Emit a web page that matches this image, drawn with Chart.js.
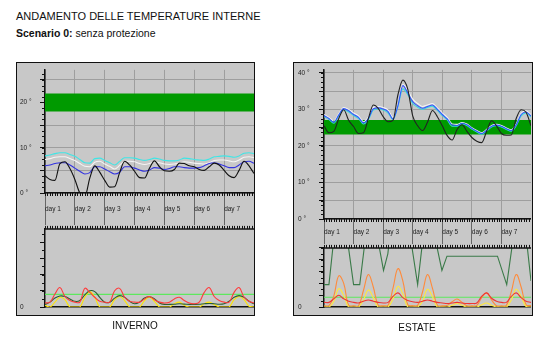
<!DOCTYPE html>
<html lang="it">
<head>
<meta charset="utf-8">
<title>Andamento delle temperature interne</title>
<script src="https://cdn.jsdelivr.net/npm/chart.js@4.4.1/dist/chart.umd.min.js"></script>
<style>
  html, body { margin: 0; padding: 0; background: #fff; }
  body { width: 554px; height: 347px; position: relative; overflow: hidden;
         font-family: "Liberation Sans", Arial, sans-serif; color: #111; }
  .titolo { position: absolute; left: 16px; top: 10px; font-size: 11px; line-height: 13px; white-space: nowrap; }
  .sottotitolo { position: absolute; left: 16px; top: 27px; font-size: 10.5px; line-height: 12px; white-space: nowrap; }
  .pannello { position: absolute; box-sizing: border-box; border: 1px solid #111; background: #c8c8c8; }
  canvas { position: absolute; }
  .didascalia { position: absolute; font-size: 10px; line-height: 12px; transform: translateX(-50%); }
</style>
</head>
<body>
<div class="titolo">ANDAMENTO DELLE TEMPERATURE INTERNE</div>
<div class="sottotitolo"><b>Scenario 0:</b> senza protezione</div>

<div class="pannello" style="left:16px; top:62px; width:239px; height:254px;"></div>
<div class="pannello" style="left:293px; top:62px; width:240px; height:254px;"></div>

<canvas id="invTemp" width="237" height="162" style="left:17px; top:63px;"></canvas>
<canvas id="invApporti" width="237" height="92" style="left:17px; top:222px;"></canvas>
<canvas id="estTemp" width="237" height="181" style="left:294px; top:63px;"></canvas>
<canvas id="estApporti" width="237" height="73" style="left:294px; top:241px;"></canvas>

<div class="didascalia" style="left:135px; top:320px;">INVERNO</div>
<div class="didascalia" style="left:417px; top:322px;">ESTATE</div>

<script>
// ore della settimana simulata (campioni ogni 4 h)
const ore = [0, 4, 8, 12, 16, 20, 24, 28, 32, 36, 40, 44, 48, 52, 56, 60, 64, 68, 72, 76, 80, 84,
  88, 92, 96, 100, 104, 108, 112, 116, 120, 124, 128, 132, 136, 140, 144, 148, 152, 156, 160, 164, 168];
const giorni = ['day 1', 'day 2', 'day 3', 'day 4', 'day 5', 'day 6', 'day 7'];

// INVERNO - temperature interne (°C)
const invNero = [3.8, 3.0, 2.8, 6.5, 6.9, 5.4, 3.0, 0.0, -0.8, 3.3, 6.0, 4.6, 2.8, 1.3, 1.4, 4.5, 7.0, 6.2,
  4.8, 3.4, 3.3, 5.5, 7.1, 5.8, 4.9, 4.8, 5.2, 6.6, 6.5, 6.0, 5.8, 5.2, 5.0, 5.8, 6.6, 6.2, 5.0, 3.8, 3.4,
  5.0, 7.0, 6.0, 4.3];
const invCiano = [8.2, 8.4, 8.7, 8.9, 8.9, 8.5, 8.1, 7.4, 6.7, 6.6, 7.6, 7.7, 7.2, 6.7, 6.2, 7.0, 7.8, 7.8,
  7.7, 7.4, 7.2, 7.4, 7.7, 7.5, 7.2, 7.1, 7.1, 7.3, 7.7, 7.6, 7.4, 7.3, 7.2, 7.5, 8.0, 8.1, 8.2, 8.1, 7.9,
  8.2, 8.8, 8.9, 8.7];
const invBianco = [7.4, 7.6, 7.9, 8.0, 8.0, 7.6, 7.2, 6.5, 5.9, 5.8, 6.8, 7.0, 6.4, 5.9, 5.3, 6.1, 7.0, 7.0,
  6.9, 6.5, 6.3, 6.5, 6.9, 6.7, 6.4, 6.3, 6.4, 6.6, 6.9, 6.8, 6.6, 6.5, 6.4, 6.7, 7.2, 7.3, 7.3, 7.1, 6.9,
  7.3, 7.9, 8.0, 7.8];
const invBlu = [6.0, 6.2, 6.5, 6.7, 6.7, 6.2, 5.5, 4.8, 4.2, 4.5, 5.8, 5.8, 5.3, 4.7, 4.2, 4.6, 5.8, 5.8,
  5.5, 5.1, 4.8, 5.1, 5.6, 5.5, 5.2, 5.4, 5.8, 5.8, 5.6, 5.5, 5.5, 5.6, 6.0, 6.5, 6.7, 6.4, 6.0, 5.6, 5.6,
  6.2, 6.9, 7.0, 6.6];
const invComfort = [18, 22];

// INVERNO - apporti
const invRosso = [0.25, 0.3, 0.8, 1.2, 0.65, 0.4, 0.3, 0.3, 1.15, 0.9, 0.6, 0.35, 0.3, 0.3, 1.0, 1.15, 0.6,
  0.35, 0.3, 0.3, 0.5, 0.65, 0.45, 0.3, 0.25, 0.3, 0.5, 0.6, 0.4, 0.25, 0.2, 0.3, 0.9, 1.2, 0.65, 0.4, 0.3,
  0.3, 0.9, 1.2, 0.6, 0.35, 0.25];
const invVerdeScuro = [0.15, 0.3, 0.55, 0.68, 0.65, 0.5, 0.35, 0.4, 0.75, 1.0, 0.95, 0.6, 0.3, 0.3, 0.55,
  0.7, 0.6, 0.35, 0.2, 0.3, 0.55, 0.63, 0.5, 0.25, 0.16, 0.16, 0.17, 0.2, 0.18, 0.16, 0.16, 0.17, 0.2, 0.22,
  0.2, 0.17, 0.2, 0.35, 0.6, 0.7, 0.6, 0.35, 0.2];
const invGiallo = [0.1, 0, 0.3, 0.6, 0.45, 0, 0, 0, 0.6, 0.95, 0.6, 0, 0, 0, 0.45, 0.65, 0.4, 0, 0, 0, 0.4,
  0.6, 0.35, 0, 0, 0, 0.2, 0.3, 0.1, 0, 0, 0, 0.2, 0.3, 0.15, 0, 0, 0, 0.45, 0.65, 0.45, 0.05, 0];
const invSoglia = 0.78;

// ESTATE - temperature interne (°C)
const estNero = [25.5, 23.6, 24.0, 27.5, 29.9, 27.0, 25.3, 23.4, 23.6, 27.5, 31.2, 30.3, 28.0, 26.6, 27.0,
  34.0, 38.0, 35.5, 28.2, 25.5, 24.2, 26.5, 29.7, 28.0, 25.5, 22.8, 21.6, 24.5, 25.8, 24.0, 22.3, 21.3,
  20.9, 24.0, 26.9, 25.5, 23.4, 22.9, 23.0, 27.5, 29.9, 29.2, 25.5];
const estBianco = [28.6, 27.8, 26.8, 28.8, 30.5, 30.0, 29.0, 28.2, 26.6, 27.8, 30.5, 30.8, 30.5, 29.8, 27.8,
  31.3, 36.8, 35.2, 32.8, 31.6, 30.8, 31.2, 31.6, 30.4, 29.0, 27.8, 26.0, 25.9, 26.4, 26.0, 25.0, 24.2,
  23.6, 24.5, 25.6, 25.9, 25.6, 24.9, 24.4, 26.0, 28.9, 29.6, 28.5];
const estCiano = [28.0, 27.2, 26.2, 28.2, 29.9, 29.3, 28.3, 27.5, 26.0, 27.2, 29.8, 30.1, 29.8, 29.0, 27.2,
  30.8, 35.6, 34.0, 31.6, 30.6, 30.0, 30.5, 30.9, 29.7, 28.3, 27.1, 25.4, 25.4, 26.0, 25.6, 24.6, 23.8,
  23.2, 24.1, 25.2, 25.5, 25.2, 24.5, 24.0, 25.5, 28.2, 29.0, 27.9];
const estBlu = [28.3, 27.5, 26.5, 28.5, 30.2, 29.6, 28.6, 27.8, 26.3, 27.5, 30.2, 30.4, 30.1, 29.4, 27.4,
  31.0, 36.5, 34.5, 32.1, 31.0, 30.3, 30.8, 31.2, 30.0, 28.6, 27.4, 25.7, 25.6, 26.2, 25.8, 24.8, 24.0,
  23.4, 24.3, 25.4, 25.7, 25.4, 24.7, 24.2, 25.8, 28.6, 29.3, 28.2];
const estComfort = [23.1, 27.1];

// ESTATE - apporti e ventilazione
const estVentOre = [0, 4, 8.2, 18.6, 24, 29, 33.8, 43.2, 48.3, 51.8, 53.5, 70, 76, 80.5, 89.8, 95.7, 99.8,
  140.8, 148.3, 153.8, 164, 168];
const estVentValori = [1.9, 1.9, 6, 6, 1.9, 1.9, 6, 6, 3.1, 4.5, 6, 6, 1.9, 6, 6, 3.1, 4.3, 4.3, 1.9, 6, 6, 2.2];
const estArancio = [0.12, 0.12, 0.95, 2.65, 2.0, 0.15, 0.12, 0.12, 1.4, 2.75, 1.7, 0.15, 0.12, 0.15, 1.6,
  3.25, 2.2, 0.2, 0.12, 0.15, 1.3, 2.75, 1.6, 0.15, 0.1, 0.15, 0.45, 0.68, 0.4, 0.12, 0.1, 0.15, 0.8, 1.2,
  0.6, 0.12, 0.1, 0.15, 1.3, 2.75, 1.7, 0.2, 0.12];
const estGiallo = [0, 0, 0.5, 1.55, 1.0, 0, 0, 0, 0.6, 1.45, 0.8, 0, 0, 0, 0.7, 1.75, 1.1, 0, 0, 0, 0.5, 1.5,
  0.9, 0, 0, 0, 0.15, 0.3, 0.15, 0, 0, 0, 0.2, 0.35, 0.15, 0, 0, 0, 0.6, 1.5, 0.9, 0.05, 0];
const estRosso = [0.4, 0.4, 0.7, 1.0, 0.7, 0.5, 0.4, 0.35, 0.5, 0.6, 0.5, 0.4, 0.35, 0.4, 0.9, 1.2, 0.8,
  0.55, 0.45, 0.4, 0.5, 0.6, 0.5, 0.4, 0.35, 0.3, 0.35, 0.4, 0.35, 0.3, 0.3, 0.35, 0.9, 1.2, 0.75, 0.5, 0.4,
  0.4, 0.9, 1.2, 0.8, 0.5, 0.4];
const estSoglia = 0.83;

const FONT_ASSI = { family: '"Liberation Sans", Arial, sans-serif', size: 6.5 };
const GRIGLIA = '#9e9e9e';

// tacche secondarie sull'asse y e tacche orarie lungo l'asse dei tempi
const tacche = {
  id: 'tacche',
  afterDraw(chart, args, o) {
    const { ctx, chartArea: a, scales: { x, y } } = chart;
    ctx.save();
    ctx.strokeStyle = '#111';
    ctx.lineWidth = 1;
    ctx.beginPath();
    for (let v = 0; v <= y.max + 1e-9; v += o.passoY) {
      const py = Math.round(y.getPixelForValue(v)) + 0.5;
      ctx.moveTo(a.left - 3, py);
      ctx.lineTo(a.left, py);
    }
    for (let h = 0; h <= x.max; h += 2) {
      const px = Math.round(x.getPixelForValue(h)) + 0.5;
      if (o.sotto) { ctx.moveTo(px, a.bottom); ctx.lineTo(px, a.bottom + 3); }
      if (o.sopra) { ctx.moveTo(px, a.top - 3); ctx.lineTo(px, a.top); }
    }
    ctx.stroke();
    if (o.sopra) {
      ctx.lineWidth = 1.5;
      ctx.beginPath();
      ctx.moveTo(a.left, a.top);
      ctx.lineTo(a.right, a.top);
      ctx.stroke();
    }
    ctx.restore();
  }
};

function linea(data, colore, extra) {
  return Object.assign({
    data, borderColor: colore, borderWidth: 1.1, pointRadius: 0,
    cubicInterpolationMode: 'monotone', fill: false
  }, extra);
}

// gobbe giornaliere degli apporti: curva morbida, non monotona
function gobba(data, colore) {
  return linea(data, colore, { cubicInterpolationMode: 'default', tension: 0.4 });
}

function orizzontale(valore, colore) {
  return linea([{ x: ore[0], y: valore }, { x: ore[ore.length - 1], y: valore }], colore, { order: 5 });
}

function fascia(limiti) {
  return {
    data: [{ x: ore[0], y: limiti[1] }, { x: ore[ore.length - 1], y: limiti[1] }],
    borderWidth: 0, pointRadius: 0, backgroundColor: '#009a00',
    fill: { value: limiti[0] }, order: 10
  };
}

function graficoTemperature(id, p) {
  return new Chart(document.getElementById(id), {
    type: 'line',
    data: { labels: ore, datasets: [...p.serie, fascia(p.comfort)] },
    options: {
      responsive: false, animation: false, events: [],
      layout: { padding: { left: p.margine, top: 0, right: 0, bottom: 0 } },
      plugins: { legend: { display: false }, tooltip: { enabled: false }, tacche: { passoY: 1.25, sotto: true } },
      scales: {
        x: {
          type: 'linear', min: 0, max: 168,
          afterFit: s => { s.height = p.fascia; },
          grid: { color: GRIGLIA, tickLength: p.fascia, tickColor: '#666' },
          border: { color: '#111', width: 1.5 },
          ticks: {
            stepSize: 24, autoSkip: false, maxRotation: 0, align: 'start', padding: p.spostamento,
            color: '#222', font: FONT_ASSI, callback: v => giorni[v / 24] ?? ''
          }
        },
        y: {
          min: 0, max: p.yMax,
          afterFit: s => { s.width = p.asseY; },
          grid: { color: GRIGLIA, tickLength: 5, tickColor: '#111' },
          border: { color: '#111', width: 1.5 },
          ticks: {
            stepSize: 5, includeBounds: false, crossAlign: 'far', color: '#222', font: FONT_ASSI,
            callback: v => (v % 10 === 0 ? v + ' °' : '')
          }
        }
      }
    },
    plugins: [tacche]
  });
}

function graficoApporti(id, p) {
  return new Chart(document.getElementById(id), {
    type: 'line',
    data: { labels: ore, datasets: p.serie },
    options: {
      responsive: false, animation: false, events: [],
      layout: { padding: { left: p.margine, top: 3, right: 0, bottom: 0 } },
      plugins: { legend: { display: false }, tooltip: { enabled: false }, tacche: { passoY: 0.5, sopra: true } },
      scales: {
        x: {
          type: 'linear', min: 0, max: 168,
          afterFit: s => { s.height = p.piede; },
          grid: { display: false }, ticks: { display: false },
          border: { color: '#111', width: 1.5 }
        },
        y: {
          min: 0, max: p.yMax,
          afterFit: s => { s.width = p.asseY; },
          grid: { drawOnChartArea: false, tickLength: 5, tickColor: '#111' },
          border: { color: '#111', width: 1.5 },
          ticks: {
            stepSize: 1, includeBounds: false, crossAlign: 'far', color: '#222', font: FONT_ASSI,
            callback: v => (v === 0 ? '0' : '')
          }
        }
      }
    },
    plugins: [tacche]
  });
}

graficoTemperature('invTemp', {
  serie: [
    linea(invNero, '#111'),
    linea(invBlu, '#3434e0'),
    linea(invBianco, '#f4f4f4'),
    linea(invCiano, '#3ee6e6')
  ],
  comfort: invComfort, yMax: 27.2, margine: 3, asseY: 25, fascia: 32, spostamento: -20
});

graficoApporti('invApporti', {
  serie: [
    gobba(invRosso, '#ff3b3b'),
    gobba(invVerdeScuro, '#2a5e34'),
    gobba(invGiallo, '#ffe600'),
    orizzontale(invSoglia, '#5ee85e')
  ],
  yMax: 4.82, margine: 3, asseY: 25, piede: 7
});

graficoTemperature('estTemp', {
  serie: [
    linea(estNero, '#222'),
    linea(estBlu, '#3355ff'),
    linea(estCiano, '#3adada'),
    linea(estBianco, '#f4f4f4')
  ],
  comfort: estComfort, yMax: 40.8, margine: 4, asseY: 26, fascia: 25, spostamento: -16
});

graficoApporti('estApporti', {
  serie: [
    linea(estVentOre.map((h, i) => ({ x: h, y: estVentValori[i] })), '#3a7a48', { cubicInterpolationMode: 'default', tension: 0 }),
    gobba(estRosso, '#ee3434'),
    gobba(estGiallo, '#ffea3a'),
    gobba(estArancio, '#ff8a3a'),
    orizzontale(estSoglia, '#5ee85e')
  ],
  yMax: 5, margine: 4, asseY: 26, piede: 4
});
</script>
</body>
</html>
